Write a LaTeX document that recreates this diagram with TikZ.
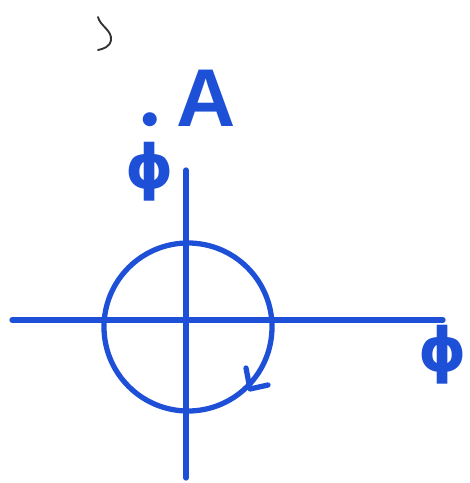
\documentclass[tikz,border=0pt]{standalone}
\usepackage{fontspec}
\setsansfont{Liberation Sans}
\newfontfamily\phifont{DejaVu Sans}
\definecolor{penblue}{RGB}{30,80,215}
\definecolor{pencil}{RGB}{50,50,50}

\begin{document}
\begin{tikzpicture}[x=0.03cm, y=-0.03cm,
    pen/.style={penblue, line width=4.5pt, line cap=round, line join=round},
    lbl/.style={penblue, inner sep=0pt},
    greek/.style={lbl, font=\fontsize{52}{52}\selectfont\phifont\bfseries}]
        \useasboundingbox (0,0) rectangle (469,483);

        % Axes
        \coordinate (west) at (12,320);
        \coordinate (east) at (443,320);
        \coordinate (north) at (186,170);
        \coordinate (south) at (186,478);
        \draw[pen] (west) -- (east);
        \draw[pen] (north) -- (south);

        % Orbit
        \node[draw=penblue, line width=4.5pt, circle, inner sep=0pt, minimum size=5.04cm] (orbit) at (188,327) {};

        % Arrow head on the orbit (clockwise)
        \coordinate (tipl) at (246,368);
        \coordinate (tipv) at (250,389);
        \coordinate (tipr) at (268,385);
        \draw[pen] (tipl) -- (tipv) -- (tipr);

        % Labels
        \node[lbl, font=\fontsize{70}{70}\selectfont\sffamily\bfseries] (A) at (206,98) {A};
        \node[greek, align=center] (phidot) at (150,157) {{\fontsize{34}{20}\selectfont •}\\[-6pt]ϕ};
        \node[greek] (phi) at (443,355) {ϕ};

        % Pencil mark
        \draw[pencil, line width=1.6pt, line cap=round] (98,17) .. controls (100,26) and (112,30) .. (111,40) .. controls (110,47) and (103,49) .. (98,50);
    \end{tikzpicture}
\end{document}
